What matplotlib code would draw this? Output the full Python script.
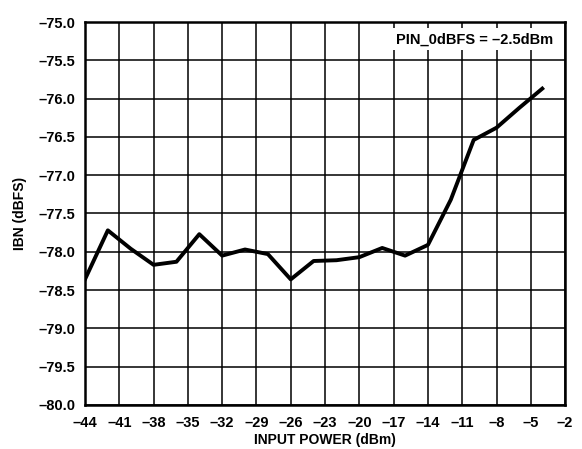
import matplotlib
matplotlib.use("Agg")
import matplotlib.pyplot as plt

plt.rcParams['font.family'] = ['Liberation Sans', 'DejaVu Sans']
plt.rcParams['font.weight'] = 'bold'

input_power = [-44, -42, -40, -38, -36, -34, -32, -30, -28, -26, -24, -22,
               -20, -18, -16, -14, -12, -10, -8, -6, -4]
ibn = [-78.36, -77.72, -77.96, -78.17, -78.13, -77.77, -78.05, -77.97,
       -78.03, -78.36, -78.12, -78.11, -78.07, -77.95, -78.05, -77.91,
       -77.32, -76.54, -76.38, -76.12, -75.87]

x_ticks = list(range(-44, -1, 3))
y_ticks = [-80.0, -79.5, -79.0, -78.5, -78.0, -77.5, -77.0, -76.5, -76.0, -75.5, -75.0]

fig = plt.figure(figsize=(5.82, 4.49), dpi=100)
ax = fig.add_axes([0.146, 0.098, 0.825, 0.853])

ax.plot(input_power, ibn, color='black', linewidth=2.8, zorder=3)

ax.set_xlim(-44, -2)
ax.set_ylim(-80, -75)
ax.set_xticks(x_ticks)
ax.set_yticks(y_ticks)
ax.set_xticklabels([str(t).replace('-', '\u2013') for t in x_ticks])
ax.set_yticklabels([f"{t:.1f}".replace('-', '\u2013') for t in y_ticks])
ax.tick_params(length=0, labelsize=10.5)
ax.tick_params(axis='x', pad=8)
ax.tick_params(axis='y', pad=7)
for lbl in ax.get_xticklabels() + ax.get_yticklabels():
    lbl.set_fontweight('bold')

ax.grid(True, color='black', linewidth=1.1)
for s in ax.spines.values():
    s.set_linewidth(1.8)

ax.set_xlabel("INPUT POWER (dBm)", fontsize=10, fontweight='bold', labelpad=2)
ax.set_ylabel("IBN (dBFS)", fontsize=10, fontweight='bold', labelpad=8)

ax.text(0.975, 0.955, "PIN_0dBFS = \u20132.5dBm", transform=ax.transAxes,
        ha='right', va='center', fontsize=10.5, fontweight='bold', zorder=4,
        bbox=dict(facecolor='white', edgecolor='none', pad=3))

fig.savefig("out.png", dpi=100)
